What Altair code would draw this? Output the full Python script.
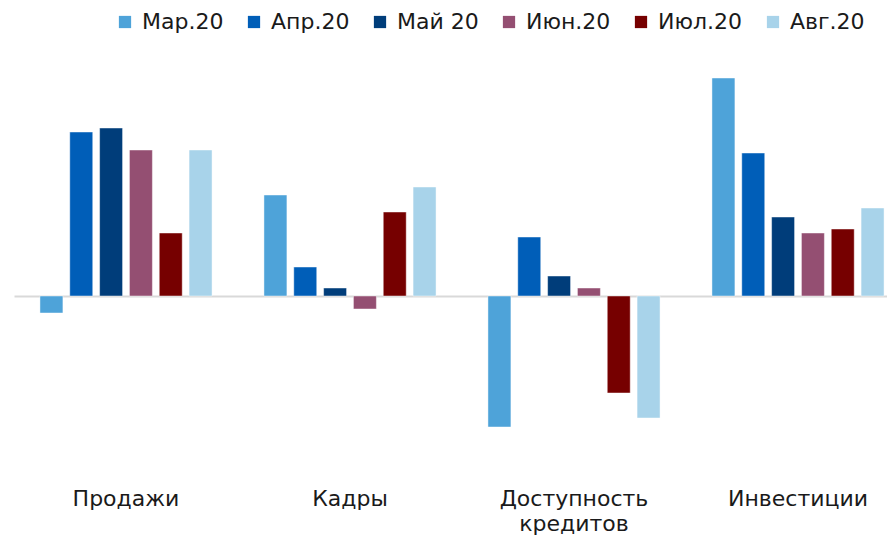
import altair as alt
import pandas as pd

categories = ["Продажи", "Кадры", "Доступность кредитов", "Инвестиции"]
months = ["Мар.20", "Апр.20", "Май 20", "Июн.20", "Июл.20", "Авг.20"]
colors = ["#4EA3D9", "#005EB8", "#003D7A", "#944F72", "#760000", "#A8D3EA"]

mar = [-1.7, 10.1, -13.1, 21.8]
apr = [16.4, 2.9, 5.9, 14.3]
may = [16.8, 0.8, 2.0, 7.9]
jun = [14.6, -1.3, 0.8, 6.3]
jul = [6.3, 8.4, -9.7, 6.7]
aug = [14.6, 10.9, -12.2, 8.8]

series = [mar, apr, may, jun, jul, aug]
rows = []
for m, vals in zip(months, series):
    for c, v in zip(categories, vals):
        rows.append({"category": c, "month": m, "value": v})
df = pd.DataFrame(rows)

FONT = "DejaVu Sans"

chart = alt.Chart(df).mark_bar(
    stroke="white", strokeWidth=1, strokeOpacity=0.45
).encode(
    x=alt.X("category:N", sort=categories,
            scale=alt.Scale(paddingInner=0, paddingOuter=0, rangeMax=896),
            axis=alt.Axis(title=None, domain=False, ticks=False, labelAngle=0,
                          labelFontSize=22, labelFont=FONT, labelColor="#1a1a1a",
                          labelPadding=12, labelExpr="split(datum.label, ' ')",
                          labelLineHeight=25, labelBaseline="top")),
    xOffset=alt.XOffset("month:N", sort=months,
                        scale=alt.Scale(paddingInner=0.23, paddingOuter=0.87)),
    y=alt.Y("value:Q", scale=alt.Scale(domain=[-18, 24], nice=False),
            axis=alt.Axis(values=[0], grid=True, gridColor="#D9D9D9", gridWidth=2,
                          labels=False, ticks=False, domain=False, title=None)),
    color=alt.Color("month:N", sort=months,
                    scale=alt.Scale(domain=months, range=colors),
                    legend=alt.Legend(title=None, orient="none", direction="horizontal",
                                      columns=6, legendX=100, legendY=-45,
                                      symbolType="square", symbolSize=150,
                                      symbolStrokeWidth=0, symbolOpacity=1,
                                      labelFont=FONT, labelFontSize=22,
                                      labelColor="#1a1a1a", labelOffset=6,
                                      columnPadding=19, padding=0)),
).properties(
    width=873, height=420,
    autosize=alt.AutoSizeParams(type="none"),
    padding={"left": 6, "top": 48, "right": 0, "bottom": 61},
).configure_view(stroke=None)

chart.save("out.html", embed_options={"renderer": "svg", "actions": False})
